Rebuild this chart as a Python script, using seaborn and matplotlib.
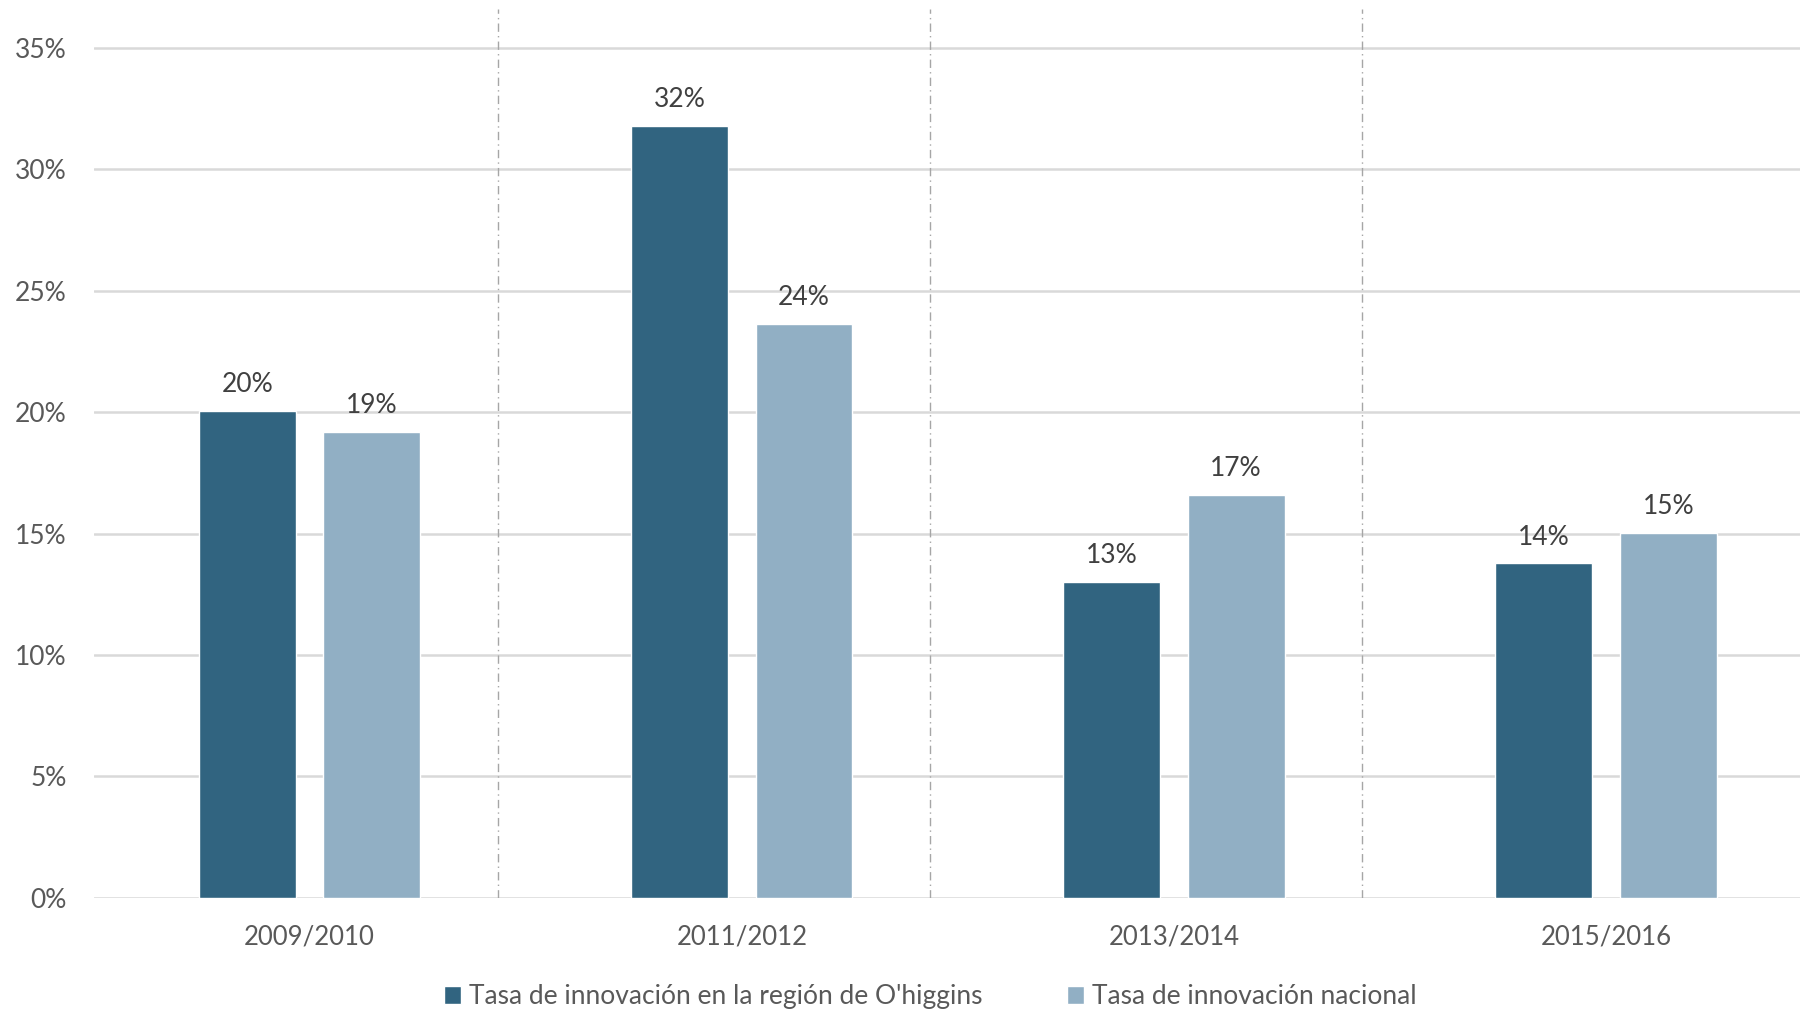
import pandas as pd
import matplotlib.pyplot as plt
import seaborn as sns

# datos (en %)
periodos = ['2009/2010', '2011/2012', '2013/2014', '2015/2016']
region = [20.06, 31.8, 13.0, 13.77]
nacional = [19.2, 23.65, 16.6, 15.04]
series = ["Tasa de innovación en la región de O'higgins", 'Tasa de innovación nacional']
colores = ['#316480', '#91AFC4']
yticks = [0, 5, 10, 15, 20, 25, 30, 35]

df = pd.DataFrame({
    'periodo': periodos * 2,
    'valor': region + nacional,
    'serie': [series[0]] * len(periodos) + [series[1]] * len(periodos),
})

sns.set_theme(style='white')
plt.rcParams['font.family'] = ['Lato', 'DejaVu Sans']

fig = plt.figure(figsize=(18, 10.1), dpi=100)
ax = fig.add_axes([0.052, 0.111, 0.948, 0.88])

sns.barplot(data=df, x='periodo', y='valor', hue='serie', palette=colores,
            width=0.576, gap=0.222, saturation=1, ax=ax, legend=True)

for cont in ax.containers:
    ax.bar_label(cont, fmt='{:.0f}%', padding=10, fontsize=19, color='#404040')

ax.set_xlim(-0.5, 3.449)
ax.set_ylim(0, 36.6)
ax.set_yticks(yticks)
ax.set_yticklabels([f'{t}%' for t in yticks])
ax.yaxis.grid(True, color='#D9D9D9', linewidth=1.8)
ax.set_axisbelow(True)

# separadores entre periodos (Excel los dibuja algo a la izquierda del punto medio)
for i in range(len(periodos) - 1):
    ax.axvline(i + 0.435, color='#A6A6A6', linewidth=1, linestyle=(0, (6, 3, 1, 3)))

for s in ax.spines.values():
    s.set_visible(False)
ax.tick_params(axis='y', length=0, pad=19.5, labelsize=19, labelcolor='#595959')
ax.tick_params(axis='x', length=0, pad=19, labelsize=18.5, labelcolor='#595959')
ax.set_xlabel('')
ax.set_ylabel('')

handles, labels = ax.get_legend_handles_labels()
ax.legend_.remove()
fig.legend(handles, labels, loc='center', bbox_to_anchor=(0.517, 0.013), ncol=2,
           frameon=False, fontsize=19, labelcolor='#595959', handlelength=0.65,
           handleheight=0.65, handletextpad=0.3, columnspacing=3.2)

fig.savefig('out.png', dpi=100)
